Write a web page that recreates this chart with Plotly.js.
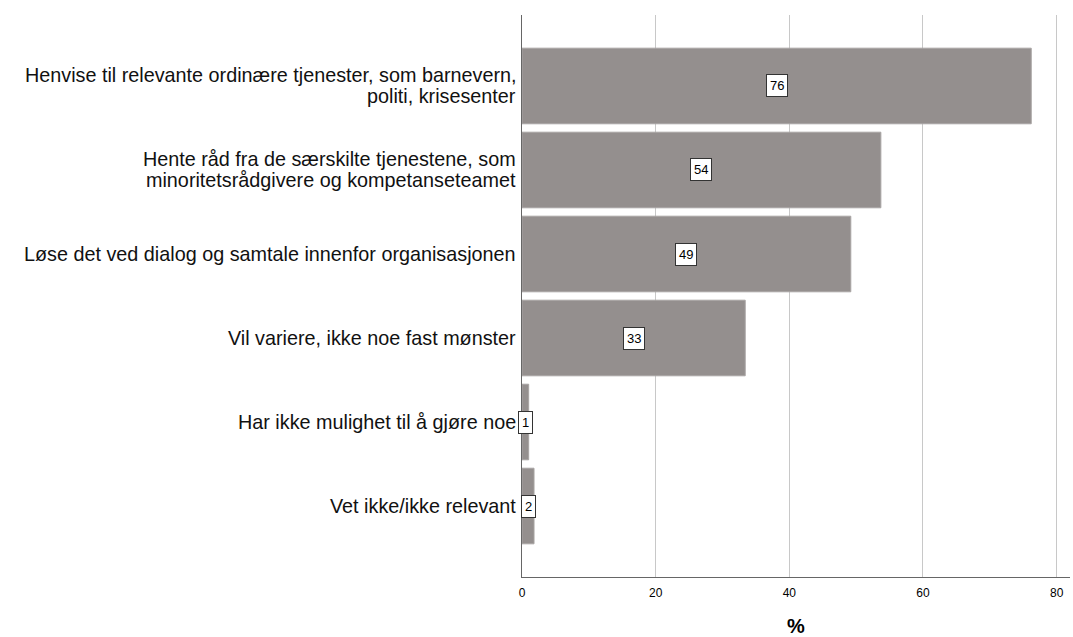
<!DOCTYPE html>
<html>
<head>
<meta charset="utf-8">
<script src="https://cdn.plot.ly/plotly-3.0.1.min.js"></script>
<style>body{margin:0;padding:0;background:#fff}#chart{width:1073px;height:637px}</style>
</head>
<body>
<div id="chart"></div>
<script>
const categories = [
  "Henvise til relevante ordinære tjenester, som barnevern,<br>politi, krisesenter",
  "Hente råd fra de særskilte tjenestene, som<br>minoritetsrådgivere og kompetanseteamet",
  "Løse det ved dialog og samtale innenfor organisasjonen",
  "Vil variere, ikke noe fast mønster",
  "Har ikke mulighet til å gjøre noe",
  "Vet ikke/ikke relevant"
];
const values = [76.2, 53.7, 49.2, 33.4, 1.0, 1.8];
const xTicks = [0, 20, 40, 60, 80];

const FONT = 'Liberation Sans, Arial, sans-serif';
const idx = categories.map((_, i) => i);

const trace = {
  type: 'bar',
  orientation: 'h',
  x: values,
  y: idx,
  marker: {color: '#948f8e', line: {color: '#a8a4a3', width: 1}},
  hoverinfo: 'none'
};

const annotations = [];
values.forEach((v, i) => {
  annotations.push({
    x: v / 2, y: i, xref: 'x', yref: 'y',
    text: String(Math.round(v)),
    showarrow: false,
    font: {family: FONT, size: 13, color: '#000'},
    bgcolor: '#ffffff',
    bordercolor: '#333333',
    borderwidth: 1,
    borderpad: 3
  });
});

// category labels, one annotation per line for tight line spacing
const LINE = 21;
categories.forEach((c, i) => {
  const lines = c.split('<br>');
  const n = lines.length;
  lines.forEach((t, k) => {
    annotations.push({
      x: 0, y: i, xref: 'paper', yref: 'y',
      xanchor: 'right', yanchor: 'middle',
      xshift: -4,
      yshift: -((k - (n - 1) / 2) * LINE),
      text: t,
      showarrow: false,
      font: {family: FONT, size: 19.8, color: '#111'}
    });
  });
});

const layout = {
  width: 1073, height: 637,
  margin: {l: 522, r: 3, t: 15, b: 60},
  paper_bgcolor: '#fff', plot_bgcolor: '#fff',
  showlegend: false,
  bargap: 0.1,
  font: {family: FONT, color: '#000'},
  xaxis: {
    range: [0, 82],
    tickvals: xTicks,
    ticktext: xTicks.map(String),
    tickfont: {size: 12, color: '#000'},
    ticklabelstandoff: 5,
    showgrid: true, gridcolor: '#c8c8c8', gridwidth: 1,
    zeroline: false,
    showline: true, linecolor: '#666', linewidth: 1,
    ticks: '',
    title: {text: '<b>%</b>', font: {size: 20, color: '#000'}, standoff: 22}
  },
  yaxis: {
    range: [5.845, -0.845],
    tickvals: idx,
    showticklabels: false,
    showgrid: false, zeroline: false,
    showline: true, linecolor: '#666', linewidth: 1,
    ticks: ''
  },
  annotations: annotations
};

Plotly.newPlot('chart', [trace], layout, {staticPlot: true, displayModeBar: false});
</script>
</body>
</html>
